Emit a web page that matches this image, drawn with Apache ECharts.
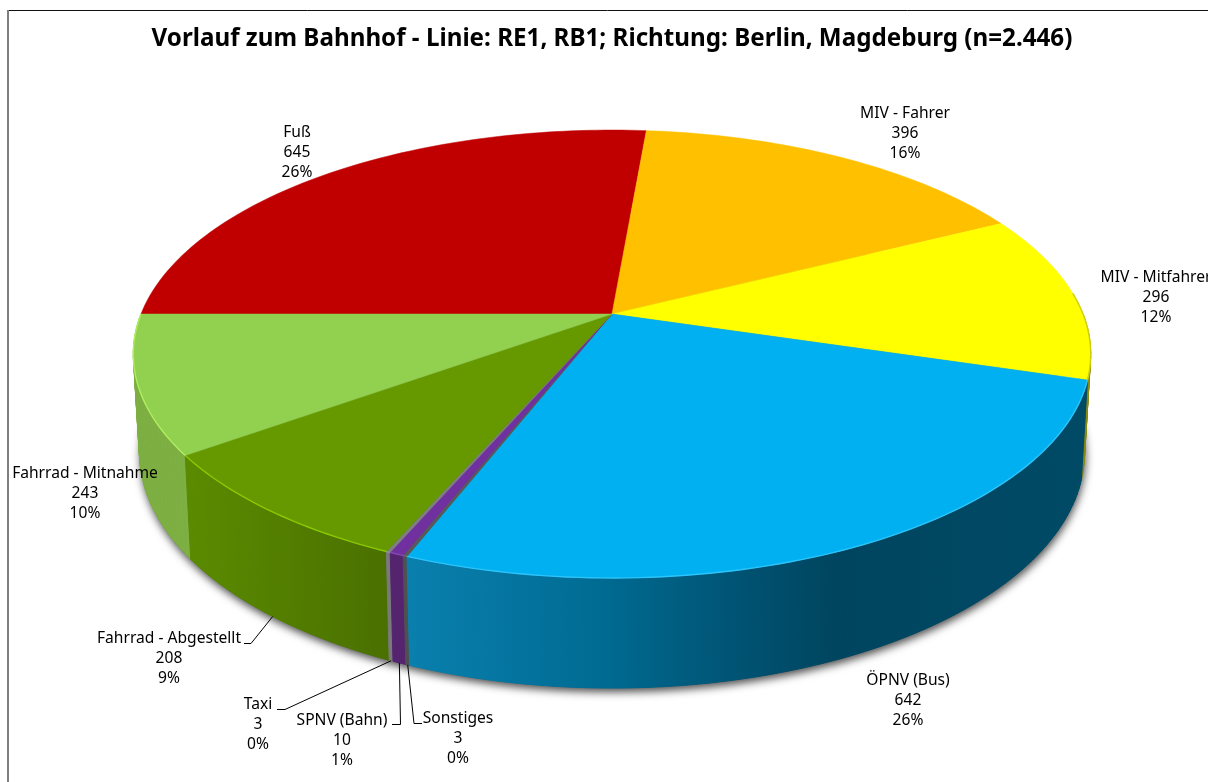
<!DOCTYPE html>
<html><head><meta charset="utf-8">
<style>html,body{margin:0;padding:0;background:#fff;overflow:hidden}#c{width:1208px;height:782px}</style>
<script src="https://cdn.jsdelivr.net/npm/echarts@6/dist/echarts.min.js"></script>
</head><body><div id="c"></div>
<script>
const titleText = 'Vorlauf zum Bahnhof - Linie: RE1, RB1; Richtung: Berlin, Magdeburg (n=2.446)';
const categories = ['Fuß','MIV - Fahrer','MIV - Mitfahrer','ÖPNV (Bus)','Sonstiges','SPNV (Bahn)','Taxi','Fahrrad - Abgestellt','Fahrrad - Mitnahme'];
const values = [645,396,296,642,3,10,3,208,243];
const percentLabels = ['26%','16%','12%','26%','0%','1%','0%','9%','10%'];

const topColors = ['#C00000','#FFC000','#FFFF00','#00B0F0','#595959','#7030A0','#7F7F7F','#669900','#92D050'];
const rimColors = [null,null,'#CFCF10','#2CC4FA','#6a6a6a','#8344B4','#909090','#8CC800','#B0EE60'];
const sideColors = ['#800000','#A07800','#8A8A10',
  [[0,'#0A80AE'],[0.28,'#006C94'],[0.52,'#00506F'],[0.64,'#00455F'],[1,'#004A66']],
  '#505050','#54246F','#7A7A7A',
  [[0,'#5A8A00'],[1,'#4A7000']],'#7DAF43'];
const sideGradX = {3:[405,1081],7:[194,388]};

const labelCenters = [[297,153],[905,134],[1156,298],[908,701],[458,739],[342,741],[258,725],[169,659],[85,494]];
const leaderElbows = {4:[[422,723.5],[414,723.5]],5:[[392,724.5],[400.5,724.5]],6:[[277,709.5],[285,709.5]],7:[[244,643.5],[251,643.5]]};

const CX=612, START=270, K=0.1786;
const TOP={cy:314,A:471,B:216.8}, BASE={cy:410.5,A:465,B:228};
function proj(deg,p){const r=deg*Math.PI/180,X=Math.sin(r),Y=-Math.cos(r),d=1-K*Y;return [CX+p.A*X/d,p.cy+p.B*Y/d];}
function depth(deg){return -Math.cos(deg*Math.PI/180);}
const total=values.reduce((a,b)=>a+b,0);

function renderItem(params,api){
  const i=params.dataIndex, v=api.value(0);
  let before=0; for(let j=0;j<i;j++) before+=values[j];
  const a0=START+before/total*360, a1=a0+v/total*360;
  const ch=[];
  if(i===0){
    const pts=[];for(let a=0;a<360;a+=2)pts.push(proj(a,BASE));
    ch.push({type:'polygon',z2:0,shape:{points:pts},style:{fill:'#555',shadowBlur:9,shadowColor:'rgba(0,0,0,0.7)',shadowOffsetX:1,shadowOffsetY:4}});
  }
  const n=Math.max(1,Math.ceil((a1-a0)/1.2));
  const sc=sideColors[i];
  const fill=Array.isArray(sc)?new echarts.graphic.LinearGradient(sideGradX[i][0],0,sideGradX[i][1],0,sc.map(s=>({offset:s[0],color:s[1]})),true):sc;
  const topPts=[[CX,TOP.cy]], arc=[];
  for(let s=0;s<=n;s++){const a=a0+(a1-a0)*s/n;const p=proj(a,TOP);topPts.push(p);arc.push(p);}
  for(let s=0;s<n;s++){
    const b0=a0+(a1-a0)*s/n,b1=a0+(a1-a0)*(s+1)/n,m=(b0+b1)/2;
    if(depth(m)<0) continue;
    ch.push({type:'polygon',z2:2+depth(m),shape:{points:[proj(b0,TOP),proj(b1,TOP),proj(b1,BASE),proj(b0,BASE)]},style:{fill:fill,stroke:fill,lineWidth:1}});
  }
  ch.push({type:'polygon',z2:10+i*0.01,shape:{points:topPts},style:{fill:topColors[i],stroke:topColors[i],lineWidth:0.5}});
  if(rimColors[i]){
    const rim=arc.filter((p,k)=>depth(a0+(a1-a0)*k/n)>-0.1);
    if(rim.length>1) ch.push({type:'polyline',z2:12,shape:{points:rim},style:{fill:null,stroke:rimColors[i],lineWidth:1.4}});
  }
  if(leaderElbows[i]){
    const e=leaderElbows[i];
    ch.push({type:'polyline',z2:30,shape:{points:[e[0],e[1],proj((a0+a1)/2,BASE)]},style:{fill:null,stroke:'#000',lineWidth:1}});
  }
  ch.push({type:'text',z2:40,style:{text:categories[i]+'\n'+v+'\n'+percentLabels[i],x:labelCenters[i][0],y:labelCenters[i][1],align:'center',verticalAlign:'middle',fontFamily:'Noto Sans',fontSize:15.6,lineHeight:20,fill:'#000'}});
  return {type:'group',children:ch};
}

const chart=echarts.init(document.getElementById('c'),null,{renderer:'canvas'});
chart.setOption({
  animation:false,
  backgroundColor:'#fff',
  title:{text:titleText,left:607,top:22,textAlign:'center',textStyle:{fontFamily:'Noto Sans',fontWeight:'bold',fontSize:24.2,color:'#000'}},
  graphic:[
    {type:'line',z:0,shape:{x1:7,y1:10.5,x2:1208,y2:10.5},style:{stroke:'#111',lineWidth:1}},
    {type:'line',z:0,shape:{x1:8,y1:10,x2:8,y2:782},style:{stroke:'#7f7f7f',lineWidth:2}}
  ],
  series:[{type:'custom',coordinateSystem:'none',renderItem:renderItem,clip:false,silent:true,data:values.map(v=>[v])}]
});
</script></body></html>
